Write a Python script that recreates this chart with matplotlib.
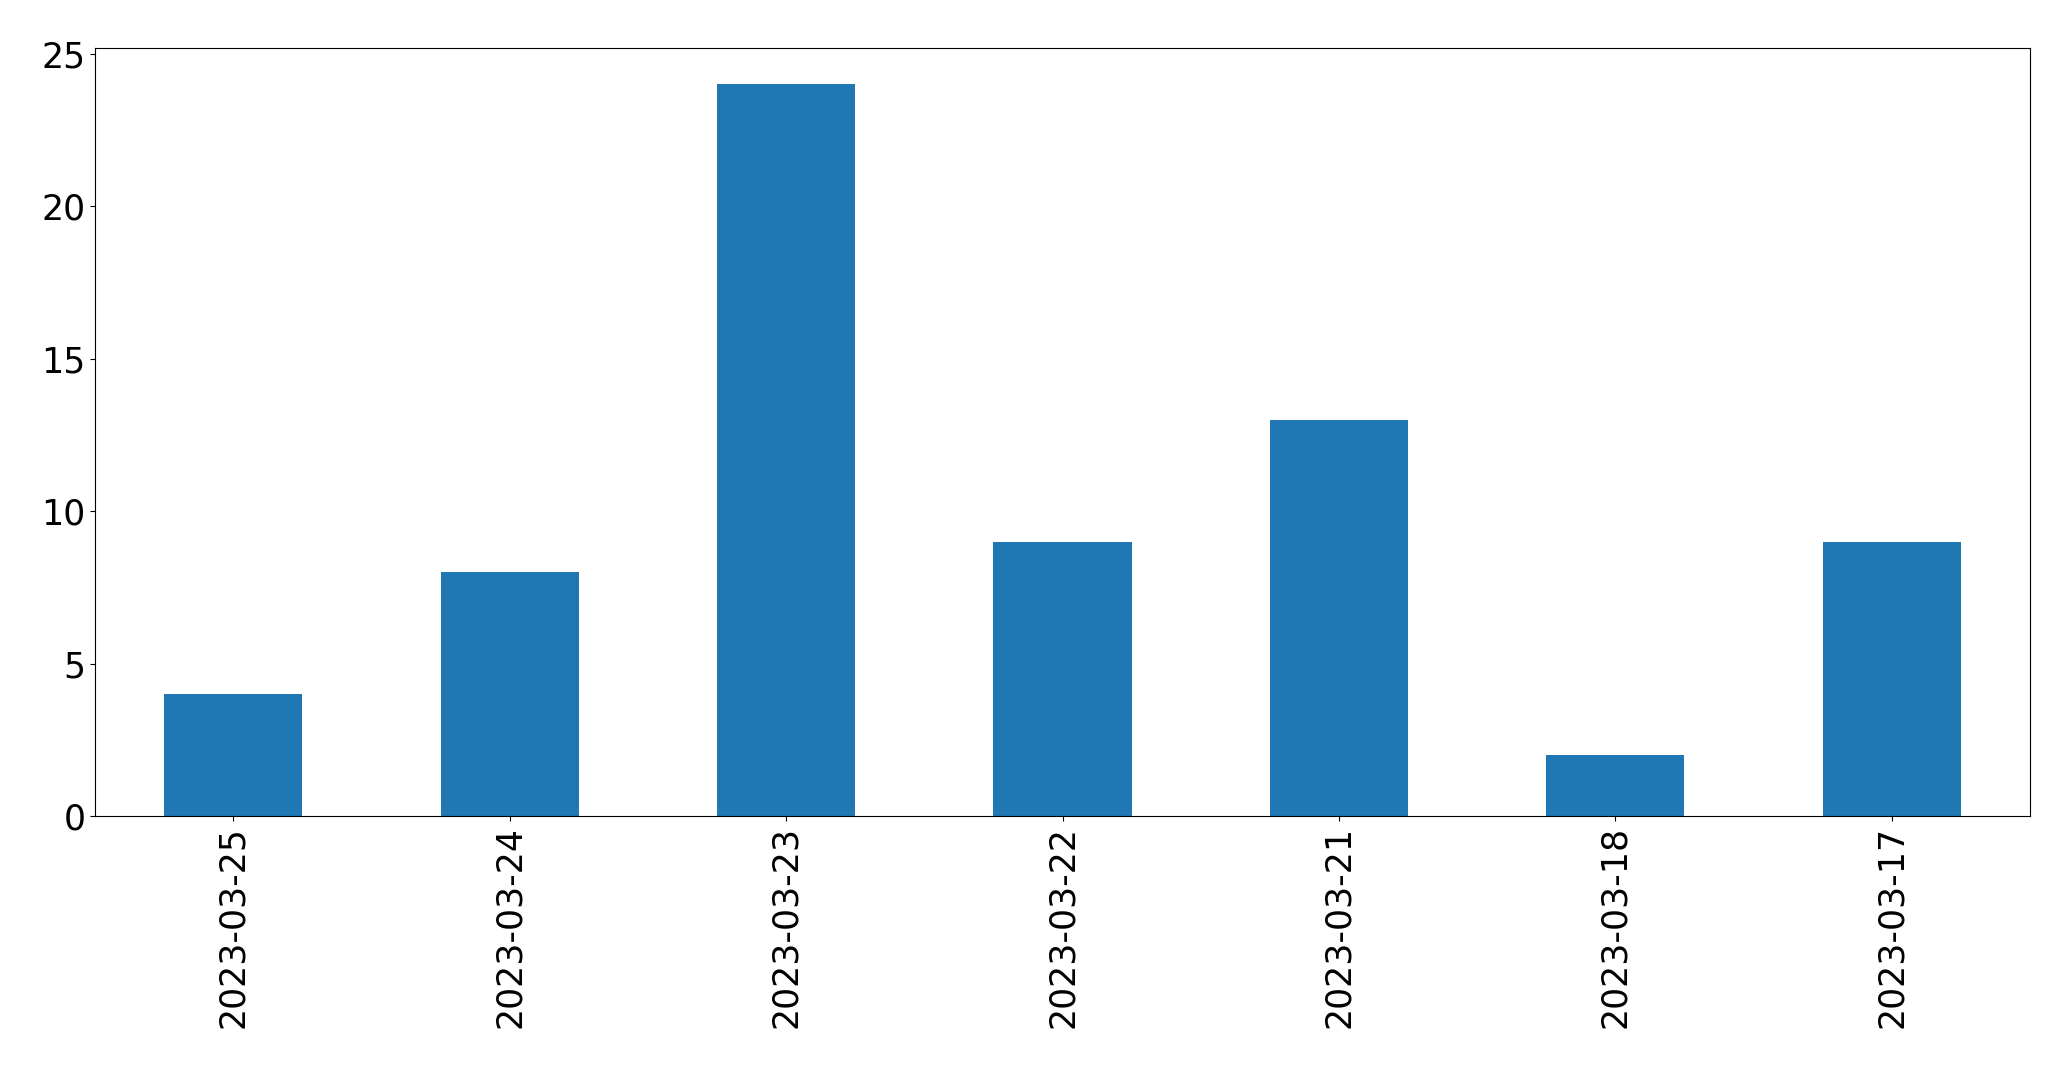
import matplotlib
matplotlib.use("Agg")
import matplotlib.pyplot as plt
import numpy as np

# Data
dates = ['2023-03-25', '2023-03-24', '2023-03-23', '2023-03-22',
         '2023-03-21', '2023-03-18', '2023-03-17']
counts = [4, 8, 24, 9, 13, 2, 9]

fig = plt.figure(figsize=(20.71, 10.69), dpi=100)
ax = fig.add_axes([95 / 2071, 1 - 816 / 1069, (2030 - 95) / 2071, (816 - 47.5) / 1069])

x = np.arange(len(dates))
ax.bar(x, counts, width=0.5, color='#1f77b4')
ax.set_xlim(-0.5, len(dates) - 0.5)
ax.set_xticks(x)
ax.set_xticklabels(dates, rotation=90)
ax.tick_params(labelsize=25)

fig.savefig('out.png', dpi=100)
